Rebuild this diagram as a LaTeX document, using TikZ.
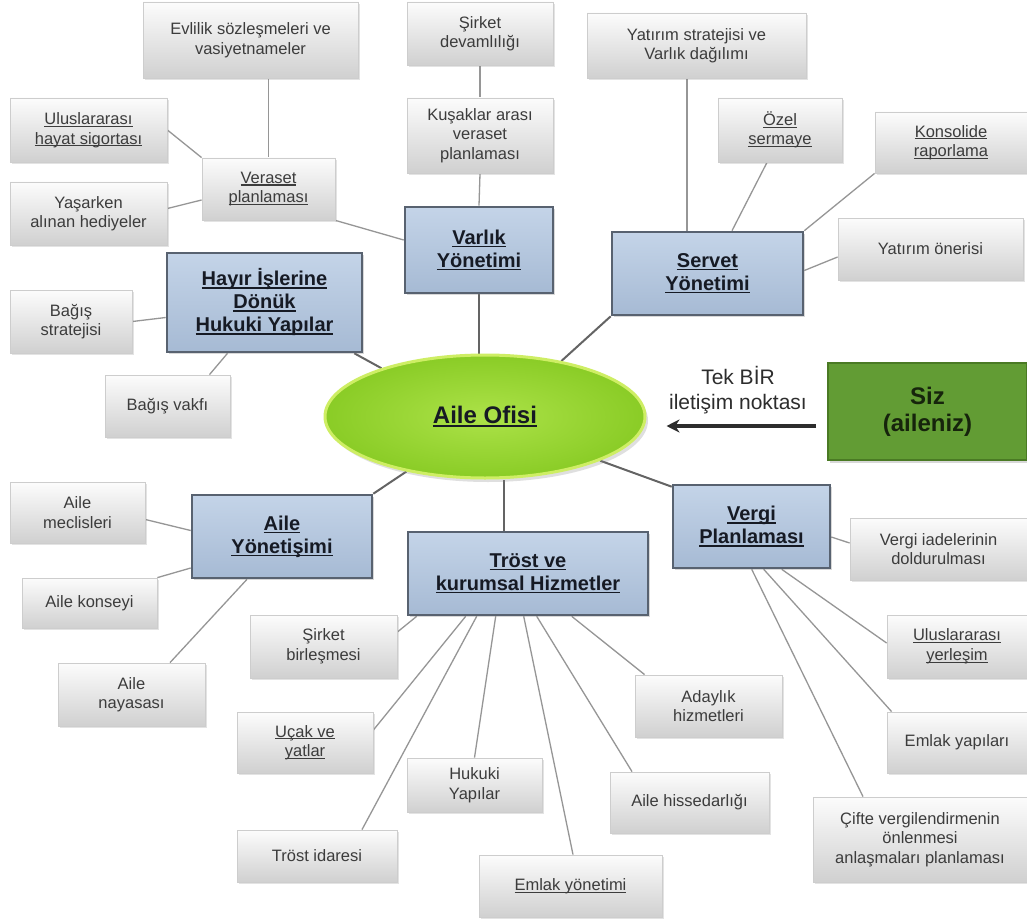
\documentclass[tikz,border=0pt]{standalone}
\usepackage{fontspec}
\setmainfont{Liberation Sans}
\newsavebox{\ulbox}
\newcommand{\ulx}[1]{\sbox{\ulbox}{#1}\rlap{\rule[-0.14em]{\wd\ulbox}{0.065em}}\usebox{\ulbox}}
\usetikzlibrary{calc,shadows,arrows.meta,shapes.geometric}
\pgfdeclarelayer{bg}
\pgfsetlayers{bg,main}
\definecolor{grayedge}{RGB}{205,205,205}
\definecolor{graytop}{RGB}{252,252,252}
\definecolor{graybot}{RGB}{208,208,208}
\definecolor{graytext}{RGB}{60,60,60}
\definecolor{bluetop}{RGB}{196,212,232}
\definecolor{bluebot}{RGB}{166,186,212}
\definecolor{blueedge}{RGB}{88,98,112}
\definecolor{bluetext}{RGB}{22,26,36}
\definecolor{ellin}{RGB}{172,226,72}
\definecolor{ellout}{RGB}{138,204,38}
\definecolor{elledge}{RGB}{206,238,100}
\definecolor{sizfill}{RGB}{98,156,52}
\definecolor{sizedge}{RGB}{74,122,36}
\definecolor{siztext}{RGB}{22,36,12}
\definecolor{spokecol}{RGB}{150,150,150}
\definecolor{hubcol}{RGB}{100,100,100}
\definecolor{arrowcol}{RGB}{45,45,45}
\tikzset{
  graybox/.style={draw=grayedge, line width=0.8, top color=graytop, bottom color=graybot,
    align=center, inner sep=2, text=graytext, font=\fontsize{16.5}{19.5}\selectfont,
    drop shadow={opacity=0.22, shadow xshift=2pt, shadow yshift=-2pt}},
  bluebox/.style={draw=blueedge, line width=2.6, top color=bluetop, bottom color=bluebot,
    align=center, inner sep=2, text=bluetext, font=\fontsize{20}{23}\selectfont\bfseries,
    drop shadow={opacity=0.3, shadow xshift=2pt, shadow yshift=-2pt}},
  hubnode/.style={ellipse, draw=elledge, line width=3, inner color=ellin, outer color=ellout,
    text=bluetext, font=\fontsize{24}{28}\selectfont\bfseries,
    drop shadow={opacity=0.25, shadow xshift=3pt, shadow yshift=-4pt}},
  sizbox/.style={draw=sizedge, line width=2, fill=sizfill, align=center, text=siztext,
    font=\fontsize{24}{27}\selectfont\bfseries,
    drop shadow={opacity=0.3, shadow xshift=2pt, shadow yshift=-3pt}},
  spoke/.style={draw=spokecol, line width=1.3},
  hubline/.style={draw=hubcol, line width=2},
  bigarrow/.style={draw=arrowcol, line width=3.2, -{Stealth[length=13pt,width=13pt]}},
  lbl/.style={align=center, text=arrowcol, font=\fontsize{21}{25}\selectfont}
}
\begin{document}
\begin{tikzpicture}[x=1pt,y=-1pt]
\useasboundingbox (0,0) rectangle (1027,920);
% ---- nodes
\node[hubnode, minimum width=320, minimum height=123] (ofis) at (485,416.5) {\ulx{Aile Ofisi}};
\node[sizbox, minimum width=199, minimum height=97] (siz) at (927.5,411.5) {Siz\\(aileniz)};
\node[lbl] (tek) at (738,390.5) {Tek BİR\\iletişim noktası};

\node[bluebox, minimum width=195, minimum height=99] (hayir) at (264.5,302.5) {\ulx{Hayır İşlerine}\\\ulx{Dönük}\\\ulx{Hukuki Yapılar}};
\node[bluebox, minimum width=148, minimum height=86] (varlik) at (479,250) {\ulx{Varlık}\\\ulx{Yönetimi}};
\node[bluebox, minimum width=191, minimum height=83] (servet) at (707.5,273.5) {\ulx{Servet}\\\ulx{Yönetimi}};
\node[bluebox, minimum width=180, minimum height=83] (yonetisim) at (282,536.5) {\ulx{Aile}\\\ulx{Yönetişimi}};
\node[bluebox, minimum width=240, minimum height=83] (trost) at (528,573.5) {\ulx{Tröst ve}\\\ulx{kurumsal Hizmetler}};
\node[bluebox, minimum width=157, minimum height=83] (vergi) at (751.5,526.5) {\ulx{Vergi}\\\ulx{Planlaması}};

\node[graybox, minimum width=215, minimum height=76] (evlilik) at (250.5,40) {Evlilik sözleşmeleri ve\\vasiyetnameler};
\node[graybox, minimum width=157, minimum height=64] (ulushayat) at (88.5,130) {\ulx{Uluslararası}\\\ulx{hayat sigortası}};
\node[graybox, minimum width=133, minimum height=62] (veraset) at (268.5,189) {\ulx{Veraset}\\\ulx{planlaması}};
\node[graybox, minimum width=157, minimum height=63] (yasarken) at (88.5,213.5) {Yaşarken\\alınan hediyeler};
\node[graybox, minimum width=122, minimum height=63] (bagisstr) at (71,321.5) {Bağış\\stratejisi};
\node[graybox, minimum width=125, minimum height=62] (bagisvakfi) at (167.5,406) {Bağış vakfı};
\node[graybox, minimum width=146, minimum height=63] (sirketdev) at (480,33.5) {Şirket\\devamlılığı};
\node[graybox, minimum width=146, minimum height=75] (kusaklar) at (480,135.5) {Kuşaklar arası\\veraset\\planlaması};
\node[graybox, minimum width=219, minimum height=65] (yatstrat) at (696.5,45.5) {Yatırım stratejisi ve\\Varlık dağılımı};
\node[graybox, minimum width=124, minimum height=64] (ozel) at (780,130) {\ulx{Özel}\\\ulx{sermaye}};
\node[graybox, minimum width=152, minimum height=61] (konsolide) at (951,142.5) {\ulx{Konsolide}\\\ulx{raporlama}};
\node[graybox, minimum width=185, minimum height=62] (yatoneri) at (930.5,249) {Yatırım önerisi};
\node[graybox, minimum width=135, minimum height=61] (meclis) at (77.5,512.5) {Aile\\meclisleri};
\node[graybox, minimum width=135, minimum height=50] (konsey) at (89.5,603) {Aile konseyi};
\node[graybox, minimum width=147, minimum height=63] (nayasa) at (131.5,694.5) {Aile\\nayasası};
\node[graybox, minimum width=147, minimum height=63] (sirketbir) at (323.5,646.5) {Şirket\\birleşmesi};
\node[graybox, minimum width=136, minimum height=61] (ucak) at (305,742.5) {\ulx{Uçak ve}\\\ulx{yatlar}};
\node[graybox, minimum width=135, minimum height=54] (hukuki) at (474.5,785) {Hukuki\\Yapılar};
\node[graybox, minimum width=160, minimum height=52] (trostid) at (317,856) {Tröst idaresi};
\node[graybox, minimum width=183, minimum height=62] (emlakyon) at (570.5,886) {\ulx{Emlak yönetimi}};
\node[graybox, minimum width=147, minimum height=62] (aday) at (708.5,706) {Adaylık\\hizmetleri};
\node[graybox, minimum width=159, minimum height=61] (hisse) at (689.5,802.5) {Aile hissedarlığı};
\node[graybox, minimum width=177, minimum height=62] (iade) at (938.5,549) {Vergi iadelerinin\\doldurulması};
\node[graybox, minimum width=140, minimum height=63] (ulusyer) at (957,646.5) {\ulx{Uluslararası}\\\ulx{yerleşim}};
\node[graybox, minimum width=140, minimum height=61] (emlakyap) at (957,742.5) {Emlak yapıları};
\node[graybox, minimum width=214, minimum height=85] (cifte) at (920,839.5) {Çifte vergilendirmenin\\önlenmesi\\anlaşmaları planlaması};

% ---- connectors
\begin{pgfonlayer}{bg}
\fill[white] (0,0) rectangle (1027,920);
% hub lines
\draw[hubline] (varlik.south) -- (varlik.south |- ofis.north);
\draw[hubline] ($(hayir.south east)+(-9,0)$) -- (ofis.155);
\draw[hubline] (servet.south west) -- (ofis.36);
\draw[hubline] (yonetisim.north east) -- (ofis.215);
\draw[hubline] ($(trost.north)+(-24,0)$) -- ($(ofis.south)+(19,0)$);
\draw[hubline] ($(vergi.north west)+(0,3)$) -- (ofis.-21);
% Varlik
\draw[spoke] (veraset.north) -- (veraset.north |- evlilik.south);
\draw[spoke] (ulushayat.east) -- (veraset.north west);
\draw[spoke] ($(yasarken.east)+(0,-5)$) -- ($(veraset.west)+(0,11)$);
\draw[spoke] (veraset.south east) -- ($(varlik.west)+(0,-10)$);
\draw[spoke] (sirketdev.south) -- (kusaklar.north);
\draw[spoke] (kusaklar.south) -- (varlik.north);
% Hayir
\draw[spoke] (bagisstr.east) -- ($(hayir.west)+(0,15)$);
\draw[spoke] ($(bagisvakfi.north)+(42,0)$) -- ($(hayir.south)+(-37,0)$);
% Servet
\draw[spoke] ($(yatstrat.south)+(-9.5,0)$) -- ($(servet.north)+(-20.5,0)$);
\draw[spoke] ($(ozel.south)+(-13,0)$) -- ($(servet.north)+(24.5,0)$);
\draw[spoke] (konsolide.south west) -- (servet.north east);
\draw[spoke] ($(yatoneri.west)+(0,8)$) -- ($(servet.east)+(0,-3)$);
% Yonetisim
\draw[spoke] ($(meclis.east)+(0,7)$) -- ($(yonetisim.west)+(0,-6)$);
\draw[spoke] (konsey.north east) -- ($(yonetisim.west)+(0,31.5)$);
\draw[spoke] ($(nayasa.north)+(38.5,0)$) -- ($(yonetisim.south)+(-35,0)$);
% Trost
\draw[spoke] ($(trost.south west)+(10,0)$) -- ($(sirketbir.east)+(0,-14.5)$);
\draw[spoke] ($(trost.south west)+(59,0)$) -- ($(ucak.east)+(0,-12.5)$);
\draw[spoke] ($(trost.south west)+(70,0)$) -- ($(trostid.north)+(45,0)$);
\draw[spoke] ($(trost.south west)+(89,0)$) -- (hukuki.north);
\draw[spoke] ($(trost.south west)+(117,0)$) -- ($(emlakyon.north)+(2.5,0)$);
\draw[spoke] ($(trost.south west)+(130,0)$) -- ($(hisse.north)+(-57.5,0)$);
\draw[spoke] ($(trost.south west)+(165,0)$) -- ($(aday.north west)+(10,0)$);
% Vergi
\draw[spoke] ($(vergi.east)+(0,10.5)$) -- ($(iade.west)+(0,-6)$);
\draw[spoke] ($(vergi.south west)+(80,0)$) -- ($(cifte.north)+(-57,0)$);
\draw[spoke] ($(vergi.south west)+(92,0)$) -- ($(emlakyap.north west)+(5,0)$);
\draw[spoke] ($(vergi.south west)+(110,0)$) -- ($(ulusyer.west)+(0,-3.5)$);
\end{pgfonlayer}
% arrow
\draw[bigarrow] ($(siz.west)+(-11,14.5)$) -- ($(ofis.east)+(20,9.5)$);
\end{tikzpicture}
\end{document}
